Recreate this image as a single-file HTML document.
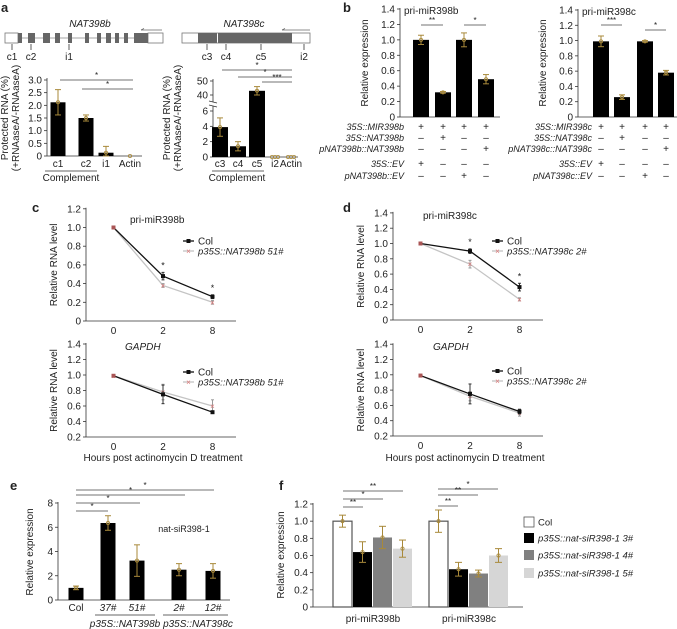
<!DOCTYPE html>
<html><head><meta charset="utf-8"><style>
html,body{margin:0;padding:0;background:#fff;}
svg{display:block;font-family:"Liberation Sans",Arial,sans-serif;}
</style></head><body>
<svg id="fig" width="677" height="629" viewBox="0 0 677 629" xmlns="http://www.w3.org/2000/svg"></svg>
<script>
// ---------- data ----------
const aLeftCats = ["c1","c2","i1","Actin"];
const aLeftVals = [2.12,1.5,0.13,0.0];
const aLeftErr = [0.5,0.12,0.25,0.0];
const aLeftTicks = ["0","0.5","1.0","1.5","2.0","2.5","3.0"];
const aRightCats = ["c3","c4","c5","i2","Actin"];
const aRightVals = [3.9,1.4,43,0,0];
const aRightErr = [1.2,0.6,3,0,0];
const bLeftVals = [1.0,0.32,1.0,0.49];
const bLeftErr = [0.06,0.01,0.09,0.06];
const bRightVals = [0.99,0.26,0.99,0.58];
const bRightErr = [0.07,0.03,0.01,0.03];
const bTicks = ["0","0.2","0.4","0.6","0.8","1.0","1.2","1.4"];
const timeCats = ["0","2","8"];
const cTopCol = [1.0,0.48,0.26];
const cTopNat = [1.0,0.38,0.20];
const cTopColErr = [0,0.04,0.02];
const cTopNatErr = [0,0.02,0.02];
const cBotCol = [0.99,0.75,0.52];
const cBotNat = [0.99,0.78,0.60];
const cBotColErr = [0,0.12,0.01];
const cBotNatErr = [0,0.1,0.08];
const dTopCol = [1.0,0.90,0.43];
const dTopNat = [1.0,0.73,0.27];
const dTopColErr = [0,0.03,0.05];
const dTopNatErr = [0,0.05,0.02];
const dBotCol = [0.99,0.75,0.52];
const dBotNat = [0.99,0.72,0.50];
const dBotColErr = [0,0.13,0.03];
const dBotNatErr = [0,0.06,0.04];
const eCats = ["Col","37#","51#","2#","12#"];
const eVals = [1.0,6.35,3.25,2.5,2.4];
const eErr = [0.15,0.6,1.3,0.5,0.6];
const eTicks = ["0","2","4","6","8"];
const fGroups = ["pri-miR398b","pri-miR398c"];
const fSeries = ["Col","p35S::nat-siR398-1 3#","p35S::nat-siR398-1 4#","p35S::nat-siR398-1 5#"];
const fValsB = [1.0,0.64,0.81,0.68];
const fValsC = [1.0,0.44,0.39,0.60];
const fErrB = [0.07,0.12,0.13,0.1];
const fErrC = [0.13,0.08,0.04,0.08];
const fTicks = ["0","0.2","0.4","0.6","0.8","1.0","1.2"];

// ---------- helpers ----------
const NS="http://www.w3.org/2000/svg";
const svg=document.getElementById('fig');
const GOLD="#a8893a";
function mk(tag,attrs,name,parent){
  const e=document.createElementNS(NS,tag);
  for(const k in attrs) e.setAttribute(k,attrs[k]);
  
  
  (parent||svg).appendChild(e);
  return e;
}
function txt(x,y,s,name,o){
  o=o||{};
  const t=mk('text',{x:x,y:y,'font-size':o.size||10,fill:o.fill||'#222','text-anchor':o.anchor||'middle','font-style':o.italic?'italic':'normal','font-weight':o.bold?'bold':'normal'},name);
  if(o.rot) t.setAttribute('transform','rotate(-90 '+x+' '+y+')');
  t.textContent=s;
  return t;
}
function line(x1,y1,x2,y2,name,c,w){
  return mk('line',{x1:x1,y1:y1,x2:x2,y2:y2,stroke:c||'#333','stroke-width':w||0.8},name);
}
function errbar(x,yTop,yBot,name,c,cap){
  c=c||GOLD; cap=cap||3;
  line(x,yTop,x,yBot,name,c,1);
  line(x-cap,yTop,x+cap,yTop,name+'-cap',c,1);
  line(x-cap,yBot,x+cap,yBot,name+'-cap',c,1);
}
function dot(x,y,name){ mk('circle',{cx:x,cy:y,r:1.6,fill:'none',stroke:GOLD,'stroke-width':0.8},name); }
function sig(x1,x2,y,s,name){ line(x1,y,x2,y,name,'#444',0.8); txt((x1+x2)/2,y-2,s,name+'-stars',{size:8}); }

// ---------- panel labels ----------
txt(1,12,'a','panel-label-a',{anchor:'start',bold:true,size:13});
txt(343,12,'b','panel-label-b',{anchor:'start',bold:true,size:13});
txt(32,212,'c','panel-label-c',{anchor:'start',bold:true,size:13});
txt(343,212,'d','panel-label-d',{anchor:'start',bold:true,size:13});
txt(10,490,'e','panel-label-e',{anchor:'start',bold:true,size:13});
txt(279,490,'f','panel-label-f',{anchor:'start',bold:true,size:13});

// ---------- panel a: gene diagrams ----------
txt(90,27,'NAT398b','gene-title-nat398b',{italic:true,size:10});
line(5,38,163,38,'gene-backbone-nat398b','#888',0.8);
mk('rect',{x:5,y:33,width:13,height:10,fill:'#fff',stroke:'#777','stroke-width':0.8},'utr-5-nat398b');
mk('rect',{x:148,y:33,width:15,height:10,fill:'#fff',stroke:'#777','stroke-width':0.8},'utr-3-nat398b');
const exB=[[18,22],[28,35],[43,50],[55,60],[68,72],[85,89],[97,101],[106,111],[115,119],[124,128],[134,148]];
exB.forEach(function(e,i){ mk('rect',{x:e[0],y:33,width:e[1]-e[0],height:10,fill:'#666'},'exon-nat398b'); });
line(141,30,162,30,'transcript-arrow-b','#666',0.7);
line(141,30,144,28.5,'transcript-arrowhead-b','#666',0.7);
[[12,'c1'],[31,'c2'],[69,'i1']].forEach(function(p){ line(p[0],44,p[0],50,'probe-tick-'+p[1],'#333',0.8); txt(p[0],60,p[1],'probe-label-'+p[1],{size:10}); });

txt(244,27,'NAT398c','gene-title-nat398c',{italic:true,size:10});
mk('rect',{x:182,y:33,width:128,height:10,fill:'#fff',stroke:'#777','stroke-width':0.8},'gene-box-nat398c');
mk('rect',{x:198,y:33,width:19,height:10,fill:'#666'},'exon1-nat398c');
mk('rect',{x:218,y:33,width:74,height:10,fill:'#666'},'exon2-nat398c');
line(282,30,310,30,'transcript-arrow-c','#666',0.7);
line(282,30,285,28.5,'transcript-arrowhead-c','#666',0.7);
[[207,'c3'],[226,'c4'],[261,'c5'],[304,'i2']].forEach(function(p){ line(p[0],44,p[0],50,'probe-tick-'+p[1],'#333',0.8); txt(p[0],60,p[1],'probe-label-'+p[1],{size:10}); });

// ---------- panel a left chart ----------
(function(){
  const ax=47, y0=156, top=80, max=3.0;
  const y=function(v){return y0-(v/max)*(y0-top);};
  const xs=[58,86,106,130];
  line(ax,top-2,ax,y0,'a-left-y-axis');
  line(ax,y0,142,y0,'a-left-x-axis');
  aLeftTicks.forEach(function(t,i){ const v=i*0.5; line(ax-3,y(v),ax,y(v),'a-left-ytick'); txt(ax-5,y(v)+3.5,t,'a-left-ytick-label',{anchor:'end',size:10}); });
  aLeftCats.forEach(function(c,i){
    const h=y0-y(aLeftVals[i]);
    mk('rect',{x:xs[i]-7.5,y:y(aLeftVals[i]),width:15,height:h,fill:'#000'},'bar-'+c);
    if(aLeftErr[i]>0) errbar(xs[i],y(aLeftVals[i]+aLeftErr[i]),y(Math.max(0,aLeftVals[i]-aLeftErr[i])),'errorbar-'+c);
    dot(xs[i],y(aLeftVals[i]),'replicate-dot');
    txt(xs[i],167,c,'a-left-xlabel-'+c,{size:10});
  });
  line(45,171,97,171,'complement-underline-left','#333',0.8);
  txt(71,181,'Complement','complement-label-left',{size:10});
  sig(60,133,80,'*','sig-c1-actin');
  sig(82,133,89,'*','sig-c2-actin');
  txt(8,118,'Protected RNA (%)','a-left-y-title-1',{rot:true,size:10});
  txt(19,118,'(+RNAaseA/-RNAaseA)','a-left-y-title-2',{rot:true,size:10});
})();

// ---------- panel a right chart (broken axis) ----------
(function(){
  const ax=213;
  const y=function(v){ if(v<=6) return 157-v*(46/6); return 95-(v-40)*1.4; };
  const xs=[220,238,257,275,291];
  line(ax,79,ax,102,'a-right-y-axis-upper');
  line(ax,106,ax,157,'a-right-y-axis-lower');
  line(209,101,217,103,'axis-break-1','#333',0.8);
  line(209,105,217,107,'axis-break-2','#333',0.8);
  line(ax,157,298,157,'a-right-x-axis');
  [[0,'0'],[2,'2'],[4,'4'],[6,'6'],[40,'40'],[50,'50']].forEach(function(t){ line(ax-3,y(t[0]),ax,y(t[0]),'a-right-ytick'); txt(ax-5,y(t[0])+3.5,t[1],'a-right-ytick-label',{anchor:'end',size:10}); });
  aRightCats.forEach(function(c,i){
    const v=aRightVals[i];
    if(v>0) mk('rect',{x:xs[i]-8,y:y(v),width:16,height:157-y(v),fill:'#000'},'bar-'+c);
    if(aRightErr[i]>0) errbar(xs[i],y(v+aRightErr[i]),y(v-aRightErr[i]),'errorbar-'+c);
    if(v===0){ dot(xs[i]-3,157,'replicate-dot'); dot(xs[i],157,'replicate-dot'); dot(xs[i]+3,157,'replicate-dot'); }
    else dot(xs[i],y(v),'replicate-dot');
    txt(xs[i],167,c,'a-right-xlabel-'+c,{size:10});
  });
  [[5,0],[6,0]].forEach(function(){});
  line(212,171,264,171,'complement-underline-right','#333',0.8);
  txt(237,181,'Complement','complement-label-right',{size:10});
  sig(222,292,70,'*','sig-c3-actin');
  sig(238,292,77,'*','sig-c4-actin');
  sig(262,292,82,'***','sig-c5-actin');
  txt(170,118,'Protected RNA (%)','a-right-y-title-1',{rot:true,size:10});
  txt(181,118,'(+RNAaseA/-RNAaseA)','a-right-y-title-2',{rot:true,size:10});
})();

// ---------- panel b ----------
function panelB(ax,yTop,xs,vals,errs,title,rowsLabels,rowSigns,labelEnd,sigs,xEnd,prefix){
  const y0=117, max=1.4;
  const y=function(v){return y0-(v/max)*(y0-yTop);};
  line(ax,yTop-1,ax,y0,prefix+'-y-axis');
  line(ax,y0,xEnd,y0,prefix+'-x-axis');
  bTicks.forEach(function(t,i){ const v=i*0.2; line(ax-3,y(v),ax,y(v),prefix+'-ytick'); txt(ax-5,y(v)+3.5,t,prefix+'-ytick-label',{anchor:'end',size:10}); });
  vals.forEach(function(v,i){
    mk('rect',{x:xs[i]-8,y:y(v),width:16,height:y0-y(v),fill:'#000'},prefix+'-bar');
    errbar(xs[i],y(v+errs[i]),y(v-errs[i]),prefix+'-errorbar');
    dot(xs[i],y(v),'replicate-dot');
  });
  txt(ax+4,y(1.4)+5,title,prefix+'-title',{anchor:'start',size:10});
  sigs.forEach(function(s){ sig(xs[s[0]],xs[s[1]],s[2],s[3],prefix+'-sig'); });
  const rowY=[127,138,149,164,176];
  rowsLabels.forEach(function(l,r){
    txt(labelEnd,rowY[r]+3,l,prefix+'-row-label',{anchor:'end',italic:true,size:9});
    rowSigns[r].forEach(function(s,i){ txt(xs[i],rowY[r]+3,s,prefix+'-row-sign',{size:10}); });
  });
  txt(ax-32,63,'Relative expression',prefix+'-y-title',{rot:true,size:10});
}
panelB(400,9,[421,443,464,486],bLeftVals,bLeftErr,'pri-miR398b',
  ['35S::MIR398b','35S::NAT398b','pNAT398b::NAT398b','35S::EV','pNAT398b::EV'],
  [['+','+','+','+'],['\u2013','+','\u2013','\u2013'],['\u2013','\u2013','\u2013','+'],['+','\u2013','\u2013','\u2013'],['\u2013','\u2013','+','\u2013']],
  404,[[0,1,25,'**'],[2,3,25,'*']],500,'b-left');
panelB(578,10,[601,622,645,666],bRightVals,bRightErr,'pri-miR398c',
  ['35S::MIR398c','35S::NAT398c','pNAT398c::NAT398c','35S::EV','pNAT398c::EV'],
  [['+','+','+','+'],['\u2013','+','\u2013','\u2013'],['\u2013','\u2013','\u2013','+'],['+','\u2013','\u2013','\u2013'],['\u2013','\u2013','+','\u2013']],
  592,[[0,1,25,'***'],[2,3,30,'*']],677,'b-right');

// ---------- panels c, d (line charts) ----------
function lineChart(o){
  const ax=o.ax, y0=o.y0, step=o.step, vmin=o.vmin;
  const y=function(v){return y0-((v-vmin)/0.2)*step;};
  const x=function(i){return ax+27.5+i*49.5;};
  line(ax,y(o.vmax)-1,ax,y0,o.p+'-y-axis');
  line(ax,y0,ax+150,y0,o.p+'-x-axis');
  for(let v=vmin;v<=o.vmax+1e-6;v+=0.2){ line(ax-3,y(v),ax,y(v),o.p+'-ytick'); txt(ax-5,y(v)+3.5,(Math.abs(v)<1e-6?'0':v.toFixed(1)),o.p+'-ytick-label',{anchor:'end',size:10}); }
  timeCats.forEach(function(c,i){ txt(x(i),y0+13,c,o.p+'-xtick-label',{size:10}); });
  // NAT series (grey line, pink x)
  mk('polyline',{points:o.nat.map(function(v,i){return x(i)+','+y(v);}).join(' '),fill:'none',stroke:'#c4c4c4','stroke-width':1.3},o.p+'-nat-line');
  o.nat.forEach(function(v,i){
    if(o.natErr[i]>0) errbar(x(i),y(v+o.natErr[i]),y(v-o.natErr[i]),o.p+'-nat-errorbar','#999',1.5);
    txt(x(i),y(v)+3,'\u00d7',o.p+'-nat-marker',{size:8,fill:'#d77'});
  });
  mk('polyline',{points:o.col.map(function(v,i){return x(i)+','+y(v);}).join(' '),fill:'none',stroke:'#111','stroke-width':1.3},o.p+'-col-line');
  o.col.forEach(function(v,i){
    if(o.colErr[i]>0) errbar(x(i),y(v+o.colErr[i]),y(v-o.colErr[i]),o.p+'-col-errorbar','#333',1.5);
    mk('rect',{x:x(i)-2,y:y(v)-2,width:4,height:4,fill:i===0?'#a55':'#111'},o.p+'-col-marker');
  });
  (o.stars||[]).forEach(function(s){ txt(x(s[0]),y(s[1])-3,'*',o.p+'-sig-star',{size:9}); });
  txt(o.titleX,o.titleY,o.title,o.p+'-title',{anchor:'start',size:10,italic:o.titleItalic});
  line(o.legX,o.legY,o.legX+11,o.legY,o.p+'-legend-col-line','#111',1.3);
  mk('rect',{x:o.legX+3.5,y:o.legY-2,width:4,height:4,fill:'#111'},o.p+'-legend-col-marker');
  txt(o.legX+15,o.legY+3.5,'Col',o.p+'-legend-col-label',{anchor:'start',size:10});
  line(o.legX,o.legY+10,o.legX+11,o.legY+10,o.p+'-legend-nat-line','#c4c4c4',1.3);
  txt(o.legX+5.5,o.legY+13,'\u00d7',o.p+'-legend-nat-marker',{size:8,fill:'#d77'});
  txt(o.legX+15,o.legY+13.5,o.natName,o.p+'-legend-nat-label',{anchor:'start',size:9.5,italic:true});
  txt(ax-29,(y0+y(o.vmax))/2,'Relative RNA level',o.p+'-y-title',{rot:true,size:10});
}
lineChart({p:'c-top',ax:86,y0:321,step:18.7,vmin:0,vmax:1.2,col:cTopCol,nat:cTopNat,colErr:cTopColErr,natErr:cTopNatErr,stars:[[1,0.53],[2,0.29]],title:'pri-miR398b',titleX:130,titleY:223,legX:183,legY:241,natName:'p35S::NAT398b 51#'});
lineChart({p:'c-bot',ax:86,y0:437,step:15.5,vmin:0.2,vmax:1.4,col:cBotCol,nat:cBotNat,colErr:cBotColErr,natErr:cBotNatErr,title:'GAPDH',titleItalic:true,titleX:125,titleY:350,legX:183,legY:372,natName:'p35S::NAT398b 51#'});
txt(163,461,'Hours post actinomycin D treatment','c-x-title',{size:10});
lineChart({p:'d-top',ax:393,y0:320,step:15.3,vmin:0,vmax:1.4,col:dTopCol,nat:dTopNat,colErr:dTopColErr,natErr:dTopNatErr,stars:[[1,0.94],[2,0.49]],title:'pri-miR398c',titleX:423,titleY:219,legX:492,legY:241,natName:'p35S::NAT398c 2#'});
lineChart({p:'d-bot',ax:393,y0:436,step:15.3,vmin:0.2,vmax:1.4,col:dBotCol,nat:dBotNat,colErr:dBotColErr,natErr:dBotNatErr,title:'GAPDH',titleItalic:true,titleX:433,titleY:350,legX:492,legY:371,natName:'p35S::NAT398c 2#'});
txt(465,461,'Hours post actinomycin D treatment','d-x-title',{size:10});

// ---------- panel e ----------
(function(){
  const ax=58,y0=600,top=503,max=8;
  const y=function(v){return y0-(v/max)*(y0-top);};
  const xs=[76,108,137,179,213];
  line(ax,top-1,ax,y0,'e-y-axis');
  line(ax,y0,230,y0,'e-x-axis');
  eTicks.forEach(function(t,i){ const v=i*2; line(ax-3,y(v),ax,y(v),'e-ytick'); txt(ax-5,y(v)+3.5,t,'e-ytick-label',{anchor:'end',size:10}); });
  eCats.forEach(function(c,i){
    mk('rect',{x:xs[i]-7.5,y:y(eVals[i]),width:15,height:y0-y(eVals[i]),fill:'#000'},'e-bar-'+c);
    errbar(xs[i],y(eVals[i]+eErr[i]),y(eVals[i]-eErr[i]),'e-errorbar');
    dot(xs[i],y(eVals[i]),'replicate-dot');
    txt(xs[i],611,c,'e-xlabel',{size:10,italic:i>0});
  });
  line(95,615,155,615,'e-underline-nat398b','#333',0.8);
  line(163,615,228,615,'e-underline-nat398c','#333',0.8);
  txt(125,627,'p35S::NAT398b','e-group-label-b',{size:10,italic:true});
  txt(198,627,'p35S::NAT398c','e-group-label-c',{size:10,italic:true});
  txt(184,532,'nat-siR398-1','e-annotation',{size:9});
  sig(xs[0],xs[1],511,'*','e-sig-37');
  sig(xs[0],140,503,'*','e-sig-51');
  sig(xs[0],185,495,'*','e-sig-2');
  sig(xs[0],214,490,'*','e-sig-12');
  txt(33,552,'Relative expression','e-y-title',{rot:true,size:10});
})();

// ---------- panel f ----------
(function(){
  const ax=313,y0=607,top=504,max=1.2;
  const y=function(v){return y0-(v/max)*(y0-top);};
  const fills=['#fff','#000','#808080','#d6d6d6'];
  const gx=[333,429];
  line(ax,top-1,ax,y0,'f-y-axis');
  line(ax,y0,523,y0,'f-x-axis');
  fTicks.forEach(function(t,i){ const v=i*0.2; line(ax-3,y(v),ax,y(v),'f-ytick'); txt(ax-5,y(v)+3.5,t.length===1?t:t,'f-ytick-label',{anchor:'end',size:10}); });
  [fValsB,fValsC].forEach(function(vals,g){
    const errs=g===0?fErrB:fErrC;
    vals.forEach(function(v,i){
      const x0=gx[g]+i*20;
      mk('rect',{x:x0,y:y(v),width:19,height:y0-y(v),fill:fills[i],stroke:i===0?'#555':'none','stroke-width':1.2},'f-bar-'+fGroups[g]);
      errbar(x0+9.5,y(v+errs[i]),y(v-errs[i]),'f-errorbar',GOLD,3.5);
      dot(x0+9.5,y(v),'replicate-dot');
    });
    txt(gx[g]+40,622,fGroups[g],'f-xlabel',{size:10});
  });
  sig(343,363,507,'**','f-sig-b1');
  sig(343,383,499,'*','f-sig-b2');
  sig(343,403,491,'**','f-sig-b3');
  sig(438,458,506,'**','f-sig-c1');
  sig(438,478,495,'**','f-sig-c2');
  sig(438,498,489,'*','f-sig-c3');
  const ly=[522,538,555,573];
  fSeries.forEach(function(s,i){
    mk('rect',{x:524,y:ly[i]-5,width:10,height:10,fill:fills[i],stroke:i===0?'#555':'none','stroke-width':0.8},'f-legend-swatch');
    txt(538,ly[i]+3.5,s,'f-legend-label',{anchor:'start',size:9.5,italic:i>0});
  });
  txt(284,555,'Relative expression','f-y-title',{rot:true,size:10});
})();
</script>
</body></html>
